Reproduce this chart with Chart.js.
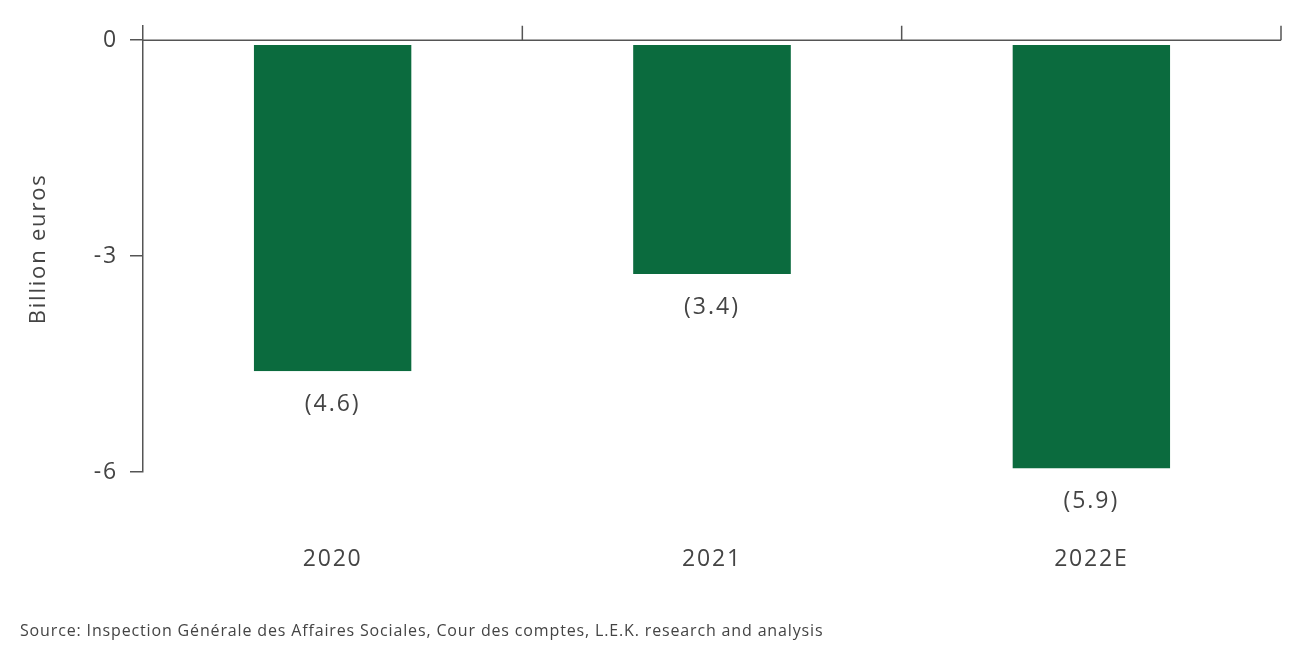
<!DOCTYPE html>
<html>
<head>
<meta charset="utf-8">
<script src="https://cdn.jsdelivr.net/npm/chart.js@4"></script>
<style>
  body { margin: 0; background: #fff; }
  #wrap { width: 1300px; height: 650px; position: relative; }
</style>
</head>
<body>
<div id="wrap"><canvas id="deficitChart"></canvas></div>
<script>
// datos del grafico
const years = ['2020', '2021', '2022E'];
const deficit = [-4.6, -3.25, -5.95];
const valueLabels = ['(4.6)', '(3.4)', '(5.9)'];
const yTicks = [0, -3, -6];
const sourceText = 'Source: Inspection Générale des Affaires Sociales, Cour des comptes, L.E.K. research and analysis';

const textColor = '#444';
const lineColor = '#555';
const fontFamily = '"Open Sans", Lato, sans-serif';

// letra algo mas abierta, como en el original
const spacingPlugin = {
  id: 'spacing',
  beforeDraw(chart) {
    chart.ctx.letterSpacing = '1.8px';
  }
};

// linea del cero, marcas entre categorias, etiquetas y fuente
const extrasPlugin = {
  id: 'extras',
  afterDatasetsDraw(chart) {
    const ctx = chart.ctx;
    const area = chart.chartArea;
    const x = chart.scales.x;
    const y = chart.scales.y;
    const zeroY = y.getPixelForValue(0);

    ctx.save();
    ctx.strokeStyle = lineColor;
    ctx.lineWidth = 1.5;
    ctx.beginPath();
    ctx.moveTo(area.left, zeroY);
    ctx.lineTo(area.right, zeroY);
    // marcas hacia arriba en los limites de cada categoria
    const bounds = [];
    for (let i = 0; i < years.length - 1; i++) {
      bounds.push((x.getPixelForValue(i) + x.getPixelForValue(i + 1)) / 2);
    }
    bounds.push(area.right);
    bounds.forEach(bx => {
      ctx.moveTo(bx, zeroY);
      ctx.lineTo(bx, area.top);
    });
    ctx.stroke();

    // etiquetas de valor debajo de cada barra
    ctx.fillStyle = textColor;
    ctx.font = '23px ' + fontFamily;
    ctx.letterSpacing = '2px';
    ctx.textAlign = 'center';
    ctx.textBaseline = 'middle';
    chart.getDatasetMeta(0).data.forEach((bar, i) => {
      ctx.fillText(valueLabels[i], bar.x, bar.y + 33);
    });

    // fuente
    ctx.font = '16px ' + fontFamily;
    ctx.letterSpacing = '0.85px';
    ctx.textAlign = 'left';
    ctx.fillText(sourceText, 20, 631);
    ctx.restore();
  }
};

document.addEventListener('DOMContentLoaded', () => {
  const ctx = document.getElementById('deficitChart').getContext('2d');
  new Chart(ctx, {
    type: 'bar',
    data: {
      labels: years,
      datasets: [{
        data: deficit,
        backgroundColor: '#0b6b3e',
        borderColor: '#ffffff',
        borderWidth: { top: 4, left: 0, right: 0, bottom: 0 },
        borderSkipped: false,
        categoryPercentage: 1,
        barPercentage: 0.416
      }]
    },
    options: {
      responsive: true,
      maintainAspectRatio: false,
      animation: false,
      layout: { padding: { left: 0, right: 19, top: 25, bottom: 0 } },
      plugins: {
        legend: { display: false },
        tooltip: { enabled: false }
      },
      scales: {
        x: {
          grid: { display: false },
          border: { display: false },
          ticks: {
            color: textColor,
            padding: 66,
            font: { family: fontFamily, size: 23 }
          },
          afterFit: s => { s.height = 178; }
        },
        y: {
          min: -6,
          max: 0.2,
          afterBuildTicks: s => { s.ticks = yTicks.map(v => ({ value: v })); },
          grid: { drawOnChartArea: false, drawTicks: true, tickLength: 13, color: lineColor, lineWidth: 1.5 },
          border: { display: true, color: lineColor, width: 1.5 },
          ticks: {
            color: textColor,
            padding: 12,
            font: { family: fontFamily, size: 23 }
          },
          title: {
            display: true,
            text: 'Billion euros',
            color: textColor,
            padding: { top: 26, bottom: 0 },
            font: { family: fontFamily, size: 22 }
          },
          afterFit: s => { s.width = 143; }
        }
      }
    },
    plugins: [spacingPlugin, extrasPlugin]
  });
});
</script>
</body>
</html>
